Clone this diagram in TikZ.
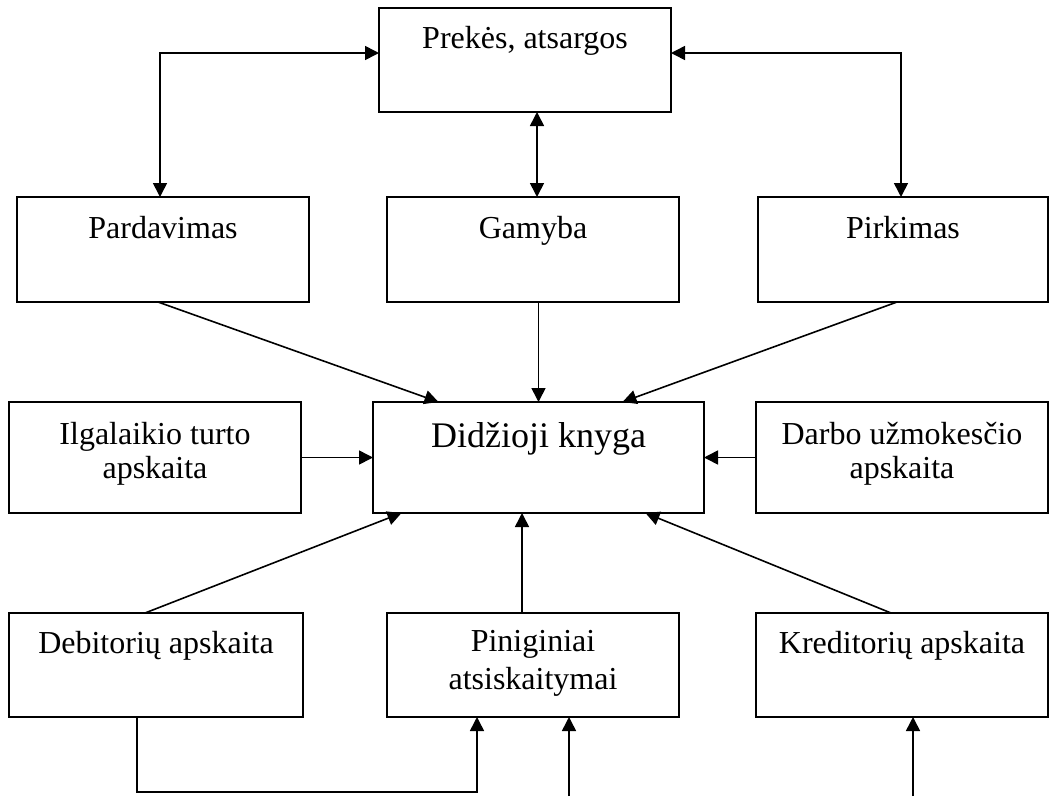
\documentclass[tikz,border=0pt]{standalone}
\usepackage{fontspec}
\setmainfont{Liberation Serif}
\usetikzlibrary{arrows.meta}
\begin{document}
\begin{tikzpicture}[x=1pt,y=-1pt,
  box/.style={draw, line width=1.7pt, rectangle, inner sep=0pt, outer sep=0pt, anchor=north west},
  txt/.style={font=\fontsize{32}{34}\selectfont, align=center, inner sep=0pt, anchor=base},
  bigtxt/.style={font=\fontsize{36}{40}\selectfont, inner sep=0pt, anchor=base},
  con/.style={line width=1.6pt, -{Triangle[length=14pt,width=14pt]}},
  dbl/.style={line width=1.6pt, {Triangle[length=14pt,width=14pt]}-{Triangle[length=14pt,width=14pt]}}]
\useasboundingbox (0,0) rectangle (1049,796);

% boxes
\node[box, minimum width=292pt, minimum height=104pt] (prek) at (379,8) {};
\node[box, minimum width=292pt, minimum height=105pt] (pard) at (17,197) {};
\node[box, minimum width=292pt, minimum height=105pt] (gam)  at (387,197) {};
\node[box, minimum width=290pt, minimum height=105pt] (pirk) at (758,197) {};
\node[box, minimum width=292pt, minimum height=111pt] (ilg)  at (9,402) {};
\node[box, minimum width=331pt, minimum height=111pt] (did)  at (373,402) {};
\node[box, minimum width=292pt, minimum height=111pt] (darb) at (756,402) {};
\node[box, minimum width=294pt, minimum height=104pt] (deb)  at (9,613) {};
\node[box, minimum width=292pt, minimum height=104pt] (pin)  at (387,613) {};
\node[box, minimum width=292pt, minimum height=104pt] (kred) at (756,613) {};

% texts (base anchor = baseline of the last line)
\node[txt] (prekT) at ([yshift=-40pt]prek.north) {Prekės, atsargos};
\node[txt] (pardT) at ([yshift=-41pt]pard.north) {Pardavimas};
\node[txt] (gamT)  at ([yshift=-41pt]gam.north) {Gamyba};
\node[txt] (pirkT) at ([yshift=-41pt]pirk.north) {Pirkimas};
\node[txt] (ilgT)  at ([yshift=-76pt]ilg.north) {Ilgalaikio turto\\apskaita};
\node[bigtxt] (didT) at ([yshift=-45pt]did.north) {Didžioji knyga};
\node[txt] (darbT) at ([yshift=-76pt]darb.north) {Darbo užmokesčio\\apskaita};
\node[txt] (debT)  at ([yshift=-40pt]deb.north) {Debitorių apskaita};
\node[txt, font=\fontsize{32}{38}\selectfont] (pinT) at ([yshift=-76pt]pin.north) {Piniginiai\\atsiskaitymai};
\node[txt] (kredT) at ([yshift=-40pt]kred.north) {Kreditorių apskaita};

% top connectors
\draw[dbl] ([yshift=7pt]prek.west) -| ([xshift=-3pt]pard.north);
\draw[dbl] ([yshift=7pt]prek.east) -| ([xshift=-2pt]pirk.north);
\coordinate (g1) at ([xshift=4pt]gam.north);
\draw[dbl] (g1 |- prek.south) -- (g1);

% into Didzioji knyga
\draw[con] ([xshift=-5pt]pard.south) -- ([xshift=-100pt]did.north);
\draw[con] (gam.south -| did.north) -- (did.north);
\draw[con] ([xshift=-6pt]pirk.south) -- ([xshift=84pt]did.north);
\draw[con] (ilg.east) -- (ilg.east -| did.west);
\draw[con] (darb.west) -- (darb.west -| did.east);
\draw[con] ([xshift=-11pt]deb.north) -- ([xshift=-137pt]did.south);
\coordinate (p1) at ([xshift=-11pt]pin.north);
\draw[con] (p1) -- (p1 |- did.south);
\draw[con] ([xshift=-11pt]kred.north) -- ([xshift=107pt]did.south);

% bottom
\coordinate (debB) at ([xshift=-19pt]deb.south);
\coordinate (pinB) at ([xshift=-56pt]pin.south);
\draw[con] (debB) -- ++(0,75) -| (pinB);
\coordinate (in1) at (569,796);
\draw[con] (in1) -- (in1 |- pin.south);
\coordinate (in2) at (913,796);
\draw[con] (in2) -- (in2 |- kred.south);
\end{tikzpicture}
\end{document}
